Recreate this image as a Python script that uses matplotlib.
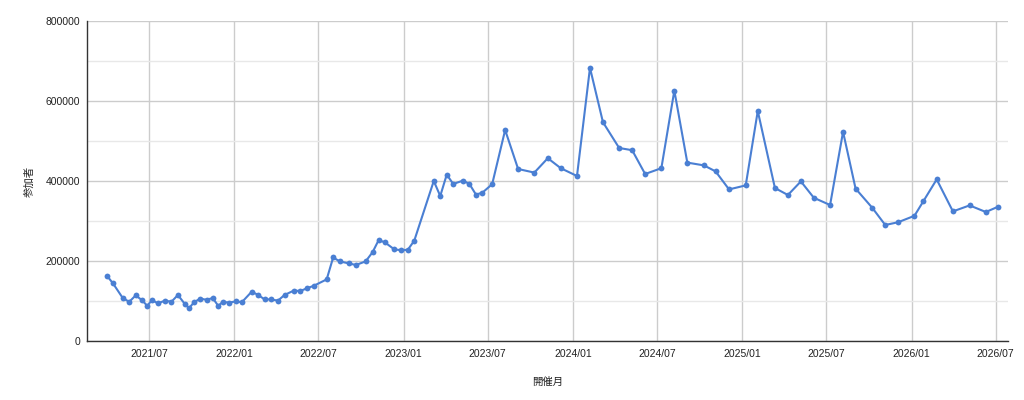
import matplotlib
matplotlib.use("Agg")
import matplotlib.pyplot as plt
import matplotlib.dates as mdates
from matplotlib.ticker import MultipleLocator, FixedLocator
import pandas as pd

plt.rcParams['font.family'] = ['Liberation Sans', 'Noto Sans CJK JP', 'DejaVu Sans']

dates = [
    "2021-04-01", "2021-04-14", "2021-05-05", "2021-05-19", "2021-06-02", "2021-06-15",
    "2021-06-27", "2021-07-07", "2021-07-20", "2021-08-04", "2021-08-18", "2021-09-01",
    "2021-09-16", "2021-09-25", "2021-10-06", "2021-10-19", "2021-11-02", "2021-11-15",
    "2021-11-27", "2021-12-07", "2021-12-20", "2022-01-04", "2022-01-17", "2022-02-07",
    "2022-02-20", "2022-03-07", "2022-03-20", "2022-04-05", "2022-04-19", "2022-05-09",
    "2022-05-23", "2022-06-07", "2022-06-21", "2022-07-19", "2022-08-02", "2022-08-16",
    "2022-09-05", "2022-09-20", "2022-10-11", "2022-10-26", "2022-11-08", "2022-11-21",
    "2022-12-12", "2022-12-27", "2023-01-10", "2023-01-24", "2023-03-07", "2023-03-21",
    "2023-04-04", "2023-04-18", "2023-05-09", "2023-05-23", "2023-06-06", "2023-06-20",
    "2023-07-11", "2023-08-08", "2023-09-05", "2023-10-10", "2023-11-08", "2023-12-06",
    "2024-01-10", "2024-02-07", "2024-03-06", "2024-04-10", "2024-05-08", "2024-06-05",
    "2024-07-10", "2024-08-07", "2024-09-04", "2024-10-10", "2024-11-04", "2024-12-03",
    "2025-01-08", "2025-02-03", "2025-03-12", "2025-04-09", "2025-05-07", "2025-06-04",
    "2025-07-09", "2025-08-06", "2025-09-02", "2025-10-08", "2025-11-05", "2025-12-03",
    "2026-01-07", "2026-01-26", "2026-02-24", "2026-03-31", "2026-05-06", "2026-06-10",
    "2026-07-07",
]
participants = [
    163000, 144000, 107500, 98000, 114000, 102500,
    88000, 102500, 94000, 101000, 98000, 115000,
    92500, 82000, 97000, 106000, 103000, 107500,
    88000, 98000, 96000, 99000, 97000, 123000,
    116000, 104000, 104000, 101000, 115000, 126000,
    125000, 132000, 138000, 154000, 209000, 199000,
    194000, 190000, 199000, 222000, 252000, 247000,
    229000, 227000, 228000, 251000, 400000, 362500,
    416000, 392500, 401000, 392500, 366000, 371000,
    392000, 527500, 430000, 421000, 457000, 432000,
    412500, 683000, 547000, 482500, 477000, 417500,
    432000, 626000, 446000, 439000, 424000, 379000,
    389000, 575000, 382500, 365000, 399000, 358000,
    340000, 523000, 381000, 333000, 290000, 297000,
    313000, 349000, 404000, 324000, 339000, 322500,
    336000,
]
tick_dates = ["2021-07-01", "2022-01-01", "2022-07-01", "2023-01-01", "2023-07-01",
              "2024-01-01", "2024-07-01", "2025-01-01", "2025-07-01", "2026-01-01",
              "2026-07-01"]
tick_labels = ["2021/07", "2022/01", "2022/07", "2023/01", "2023/07", "2024/01",
               "2024/07", "2025/01", "2025/07", "2026/01", "2026/07"]
x_label = "開催月"
y_label = "参加者"

x = pd.to_datetime(dates)
ticks = pd.to_datetime(tick_dates)

fig = plt.figure(figsize=(10.24, 4.0), dpi=100)
ax = fig.add_axes([0.085, 0.1475, 0.899, 0.8])

ax.plot(x, participants, color="#4a7fd3", linewidth=1.5, marker="o",
        markersize=4.2, markeredgewidth=0, zorder=3)

ax.set_xlim(pd.Timestamp("2021-02-17"), pd.Timestamp("2026-07-27"))
ax.set_ylim(0, 800000)

ax.xaxis.set_major_locator(FixedLocator(mdates.date2num(ticks)))
ax.set_xticklabels(tick_labels)
ax.yaxis.set_major_locator(MultipleLocator(200000))
ax.yaxis.set_minor_locator(MultipleLocator(100000))
ax.yaxis.set_major_formatter(matplotlib.ticker.FuncFormatter(lambda v, p: f"{int(v)}"))

ax.grid(True, which="major", axis="both", color="#cccccc", linewidth=1.0, zorder=0)
ax.grid(True, which="minor", axis="y", color="#e8e8e8", linewidth=1.0, zorder=0)

ax.tick_params(axis="both", which="both", length=0, labelsize=7.5, colors="#222222")
ax.tick_params(axis="y", pad=5)
ax.tick_params(axis="x", pad=6)

for s in ["top", "right"]:
    ax.spines[s].set_visible(False)
ax.spines["left"].set_color("#333333")
ax.spines["bottom"].set_color("#333333")
ax.spines["left"].set_linewidth(1.0)
ax.spines["bottom"].set_linewidth(1.0)

ax.set_xlabel(x_label, fontsize=7.5, color="#222222", labelpad=12.5)
ax.set_ylabel(y_label, fontsize=7.5, color="#222222", labelpad=8)

fig.savefig("out.png", dpi=100, facecolor="white")
